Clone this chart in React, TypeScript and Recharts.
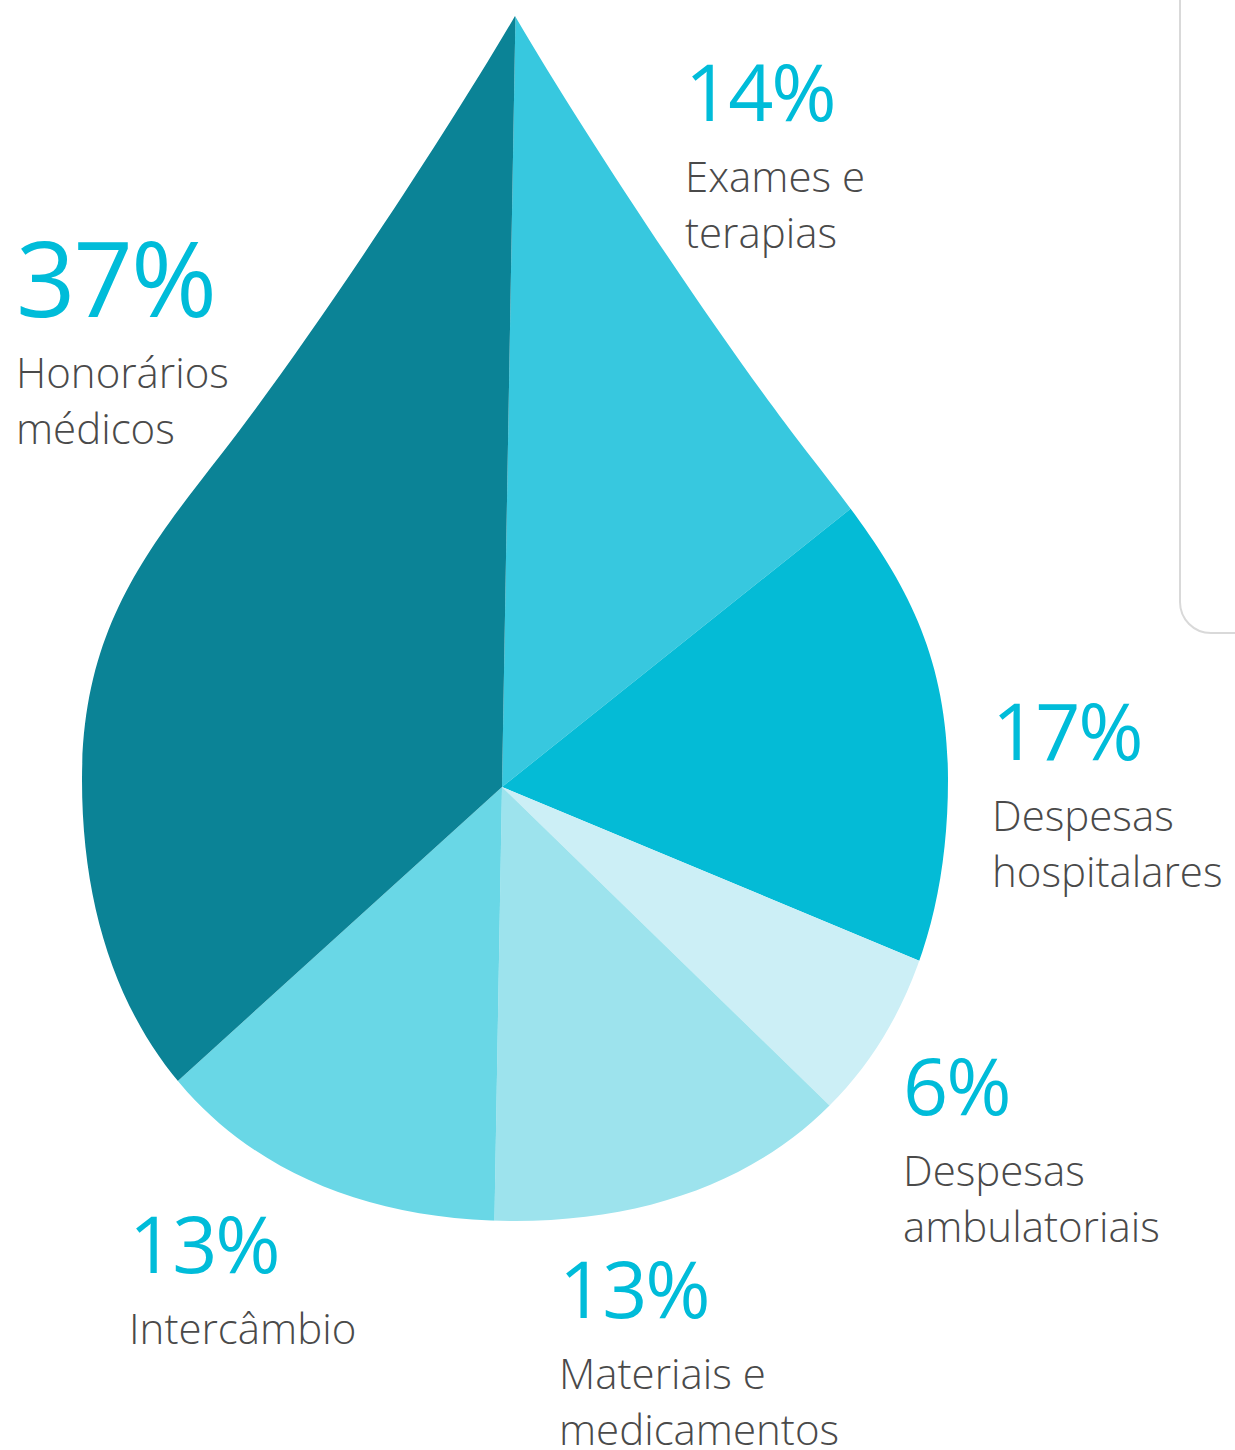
import { PieChart, Pie, Cell } from "recharts";

// Distribuição dos custos assistenciais (%)
const categories = [
  "Exames e terapias",
  "Despesas hospitalares",
  "Despesas ambulatoriais",
  "Materiais e medicamentos",
  "Intercâmbio",
  "Honorários médicos",
];
const categoryLines = [
  ["Exames e", "terapias"],
  ["Despesas", "hospitalares"],
  ["Despesas", "ambulatoriais"],
  ["Materiais e", "medicamentos"],
  ["Intercâmbio"],
  ["Honorários", "médicos"],
];
const shares = [14, 17, 6, 13, 13, 37];

const COLORS = ["#37C8DF", "#04BBD6", "#CCEFF6", "#9DE3ED", "#69D7E6", "#0B8396"];

const W = 1235;
const H = 1450;
const CX = 502;
const CY = 787;

// label block placement relative to the pie centre (x of text, baseline of the %)
const LABEL_SPOTS = [
  { dx: 183, dy: -666, big: false },
  { dx: 490, dy: -27, big: false },
  { dx: 401, dy: 328, big: false },
  { dx: 57, dy: 531, big: false },
  { dx: -373, dy: 486, big: false },
  { dx: -486, dy: -470, big: true },
];

const FONT = "'Open Sans', 'Noto Sans', sans-serif";

const data = categories.map((name, i) => ({ name, value: shares[i] }));

// drop outline: symmetric around the tip axis, built from one half
function dropPath(axisX: number, tipY: number) {
  const half: [number, number][][] = [
    [[70.7, 136.8], [205, 340], [292, 452]],
    [[370, 552], [433, 630], [433, 780]],
    [[433, 1053.4], [268.5, 1221], [0, 1221]],
  ];
  const p = (x: number, y: number) => `${axisX + x},${y}`;
  let d = `M${p(0, tipY)}`;
  half.forEach((seg) => {
    d += ` C${seg.map(([x, y]) => p(x, y)).join(" ")}`;
  });
  // mirror back up the left side
  const pts = [[0, tipY], ...half.flat()];
  for (let i = half.length - 1; i >= 0; i--) {
    const a = pts[i * 3 + 2];
    const b = pts[i * 3 + 1];
    const c = pts[i * 3];
    d += ` C${p(-a[0], a[1])} ${p(-b[0], b[1])} ${p(-c[0], c[1])}`;
  }
  return d + " Z";
}

function renderLabel(props: any) {
  const { cx, cy, index, value } = props;
  const spot = LABEL_SPOTS[index];
  const x = cx + spot.dx;
  const y = cy + spot.dy;
  return (
    <g>
      <text
        x={x}
        y={y}
        fill="#00BCD9"
        fontSize={spot.big ? 104 : 79}
        fontFamily={FONT}
        fontWeight={400}
        letterSpacing={-2}
      >
        {`${value}%`}
      </text>
      {categoryLines[index].map((line, i) => (
        <text
          key={line}
          x={x}
          y={y + 71 + i * 56}
          fill="#4A4A4A"
          fontSize={42}
          fontFamily={FONT}
          fontWeight={300}
        >
          {line}
        </text>
      ))}
    </g>
  );
}

export default function App() {
  return (
    <div
      style={{
        position: "absolute",
        left: 0,
        top: 0,
        width: W,
        height: H,
        overflow: "hidden",
        background: "#fff",
      }}
    >
      <style>{`.drop-chart .recharts-pie-sector { clip-path: url(#drop-clip); }`}</style>
      <svg width={0} height={0} style={{ position: "absolute" }}>
        <defs>
          <clipPath id="drop-clip" clipPathUnits="userSpaceOnUse">
            <path d={dropPath(515, 16)} />
          </clipPath>
        </defs>
      </svg>
      {/* grey frame of the neighbouring box */}
      <div
        style={{
          position: "absolute",
          left: 1179,
          top: -60,
          width: 140,
          height: 694,
          border: "2px solid #D9D9D9",
          borderRadius: 32,
          boxSizing: "border-box",
        }}
      />
      <div className="drop-chart" style={{ position: "absolute", left: 0, top: 0 }}>
        <PieChart width={W} height={H} margin={{ top: 0, right: 0, bottom: 0, left: 0 }}>
          <Pie
            data={data}
            dataKey="value"
            nameKey="name"
            cx={CX}
            cy={CY}
            innerRadius={0}
            outerRadius={800}
            startAngle={89}
            endAngle={-271}
            stroke="none"
            labelLine={false}
            label={renderLabel}
            isAnimationActive={false}
          >
            {data.map((d, i) => (
              <Cell key={d.name} fill={COLORS[i]} />
            ))}
          </Pie>
        </PieChart>
      </div>
    </div>
  );
}
